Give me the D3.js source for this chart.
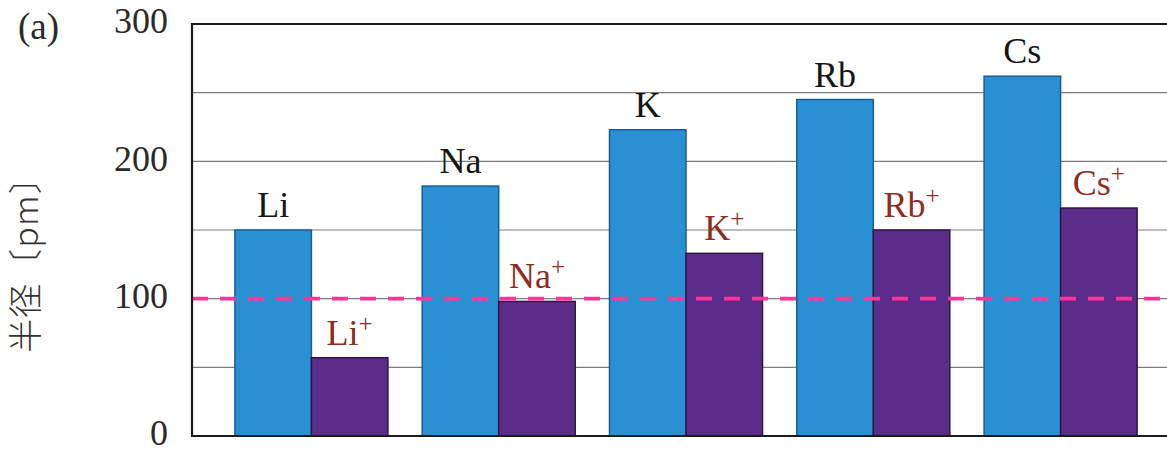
<!DOCTYPE html>
<html>
<head>
<meta charset="utf-8">
<script src="https://cdn.jsdelivr.net/npm/d3@7"></script>
<style>
  html, body { margin: 0; padding: 0; background: #fff; }
  svg { display: block; }
</style>
</head>
<body>
<svg id="chart" width="1167" height="453"></svg>
<script>
const elements = ["Li", "Na", "K", "Rb", "Cs"];
const atomRadius = [150, 182, 223, 245, 262];
const ionRadius = [57, 98, 133, 150, 166];
const yTicks = [0, 100, 200, 300];
const gridValues = [50, 100, 150, 200, 250];
const referenceValue = 100;
const panelLabel = "(a)";
const yAxisTitle = "半径〔pm〕";

(function () {
const svg = d3.select("#chart");
const pLeft = 192, pRight = 1180, pTop = 24, pBottom = 436;

const x = d3.scaleBand().domain(elements).range([pLeft, pRight])
  .paddingInner(0.183).paddingOuter(0.229);
const xSub = d3.scaleBand().domain(["atom", "ion"]).range([0, x.bandwidth()]).padding(0);
const y = d3.scaleLinear().domain([0, 300]).range([pBottom, pTop]);

// gridlines
svg.append("g").selectAll("line").data(gridValues).join("line")
  .attr("x1", pLeft).attr("x2", pRight)
  .attr("y1", d => y(d)).attr("y2", d => y(d))
  .attr("stroke", "#7d7d7d").attr("stroke-width", 1.1);

const rows = elements.map((e, i) => ({ e, atom: atomRadius[i], ion: ionRadius[i] }));

// atom bars
svg.append("g").selectAll("rect").data(rows).join("rect")
  .attr("x", d => x(d.e) + xSub("atom"))
  .attr("width", xSub.bandwidth())
  .attr("y", d => y(d.atom))
  .attr("height", d => y(0) - y(d.atom))
  .attr("fill", "#2a90d4").attr("stroke", "#175d9c").attr("stroke-width", 1.5);

// ion bars
svg.append("g").selectAll("rect").data(rows).join("rect")
  .attr("x", d => x(d.e) + xSub("ion"))
  .attr("width", xSub.bandwidth())
  .attr("y", d => y(d.ion))
  .attr("height", d => y(0) - y(d.ion))
  .attr("fill", "#5c2c8a").attr("stroke", "#2c1545").attr("stroke-width", 1.5);

// atom labels
svg.append("g").selectAll("text").data(rows).join("text")
  .attr("x", d => x(d.e) + xSub("atom") + xSub.bandwidth() / 2)
  .attr("y", d => y(d.atom) - 13)
  .attr("text-anchor", "middle")
  .attr("font-family", "Liberation Serif, serif")
  .attr("font-size", 36).attr("fill", "#151515")
  .text(d => d.e);

// ion labels
const ionLab = svg.append("g").selectAll("text").data(rows).join("text")
  .attr("x", d => x(d.e) + xSub("ion") + xSub.bandwidth() / 2)
  .attr("y", d => y(d.ion) - 13)
  .attr("text-anchor", "middle")
  .attr("font-family", "Liberation Serif, serif")
  .attr("font-size", 36).attr("fill", "#8e2c1e");
ionLab.append("tspan").text(d => d.e);
ionLab.append("tspan").attr("dy", -13).attr("font-size", 25).text("+");

// dashed reference line
svg.append("line")
  .attr("x1", pLeft).attr("x2", pRight)
  .attr("y1", y(referenceValue)).attr("y2", y(referenceValue))
  .attr("stroke", "#ff3399").attr("stroke-width", 3.6)
  .attr("stroke-dasharray", "16,12");

// frame
svg.append("path")
  .attr("d", `M${pRight},${pTop} H${pLeft} V${pBottom} H${pRight}`)
  .attr("fill", "none").attr("stroke", "#1a1a1a").attr("stroke-width", 2.2);

// y tick labels
svg.append("g").selectAll("text").data(yTicks).join("text")
  .attr("x", 168).attr("y", d => y(d) + 1)
  .attr("text-anchor", "end").attr("dominant-baseline", "middle")
  .attr("font-family", "Liberation Serif, serif")
  .attr("font-size", 36).attr("fill", "#2a2a2a")
  .text(d => d);

// panel label
svg.append("text")
  .attr("x", 18).attr("y", 39)
  .attr("font-family", "Liberation Serif, serif")
  .attr("font-size", 37).attr("fill", "#2a2a2a")
  .text(panelLabel);

// y axis title
svg.append("text")
  .attr("transform", "translate(29,256) rotate(-90)")
  .attr("text-anchor", "middle").attr("dominant-baseline", "middle")
  .attr("font-family", "Noto Sans CJK JP, sans-serif")
  .attr("font-size", 34).attr("font-weight", 300).attr("fill", "#333")
  .attr("letter-spacing", 1)
  .text(yAxisTitle);
})();
</script>
</body>
</html>
